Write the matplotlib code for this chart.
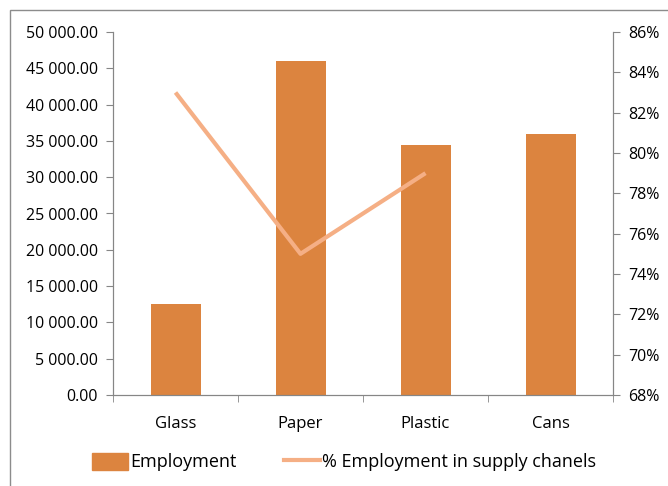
import matplotlib.pyplot as plt
from matplotlib.patches import Rectangle
from matplotlib.lines import Line2D
from matplotlib.ticker import FuncFormatter, MultipleLocator

plt.rcParams['font.family'] = ['Open Sans', 'DejaVu Sans']

categories = ['Glass', 'Paper', 'Plastic', 'Cans']
employment = [12500, 46000, 34500, 36000]
supply_share = [83, 75, 79]  # % employment in supply chanels (no value for Cans)

bar_color = '#DC843F'
line_color = '#F5AF85'
axis_grey = '#868686'

fig = plt.figure(figsize=(6.68, 4.86), dpi=100)
# outer chart border, cut off on the right and bottom like the original
fig.patches.append(Rectangle((10 / 668, -0.1), 1.2, 1 - 10 / 486 + 0.1,
                             transform=fig.transFigure, fill=False,
                             edgecolor='#8c8c8c', linewidth=1))

ax = fig.add_axes([113 / 668, 91 / 486, 500 / 668, 363 / 486])
x = list(range(len(categories)))
ax.bar(x, employment, width=0.4, color=bar_color, zorder=2)
ax.set_xlim(-0.5, len(categories) - 0.5)
ax.set_ylim(0, 50000)
ax.yaxis.set_major_locator(MultipleLocator(5000))
ax.yaxis.set_major_formatter(FuncFormatter(lambda v, p: f'{v:,.2f}'.replace(',', ' ')))
ax.set_xticks(x)
ax.set_xticklabels(categories)
ax.set_xticks([i + 0.5 for i in [-1] + x], minor=True)
ax.tick_params(axis='x', which='major', length=0, pad=15, labelsize=12)
ax.tick_params(axis='x', which='minor', length=5, color=axis_grey, direction='out')
ax.tick_params(axis='y', length=5, color=axis_grey, labelsize=11.5, pad=6)

ax2 = ax.twinx()
ax2.plot(x[:len(supply_share)], supply_share, color=line_color, linewidth=3,
         solid_capstyle='butt', zorder=3)
ax2.set_ylim(68, 86)
ax2.yaxis.set_major_locator(MultipleLocator(2))
ax2.yaxis.set_major_formatter(FuncFormatter(lambda v, p: f'{v:.0f}%'))
ax2.tick_params(axis='y', length=5, color=axis_grey, labelsize=11.5, pad=6)

for a in (ax, ax2):
    a.spines['top'].set_visible(False)
    for s in ('left', 'right', 'bottom'):
        a.spines[s].set_color(axis_grey)

handles = [Rectangle((0, 0), 1, 1, color=bar_color),
           Line2D([], [], color=line_color, linewidth=3)]
fig.legend(handles, ['Employment', '% Employment in supply chanels'],
           loc='center', bbox_to_anchor=(0.515, 1 - 462 / 486),
           ncol=2, frameon=False, fontsize=13, handlelength=2.0, handleheight=1.1,
           handletextpad=0.15, columnspacing=2.6)

fig.savefig('out.png', dpi=100)
